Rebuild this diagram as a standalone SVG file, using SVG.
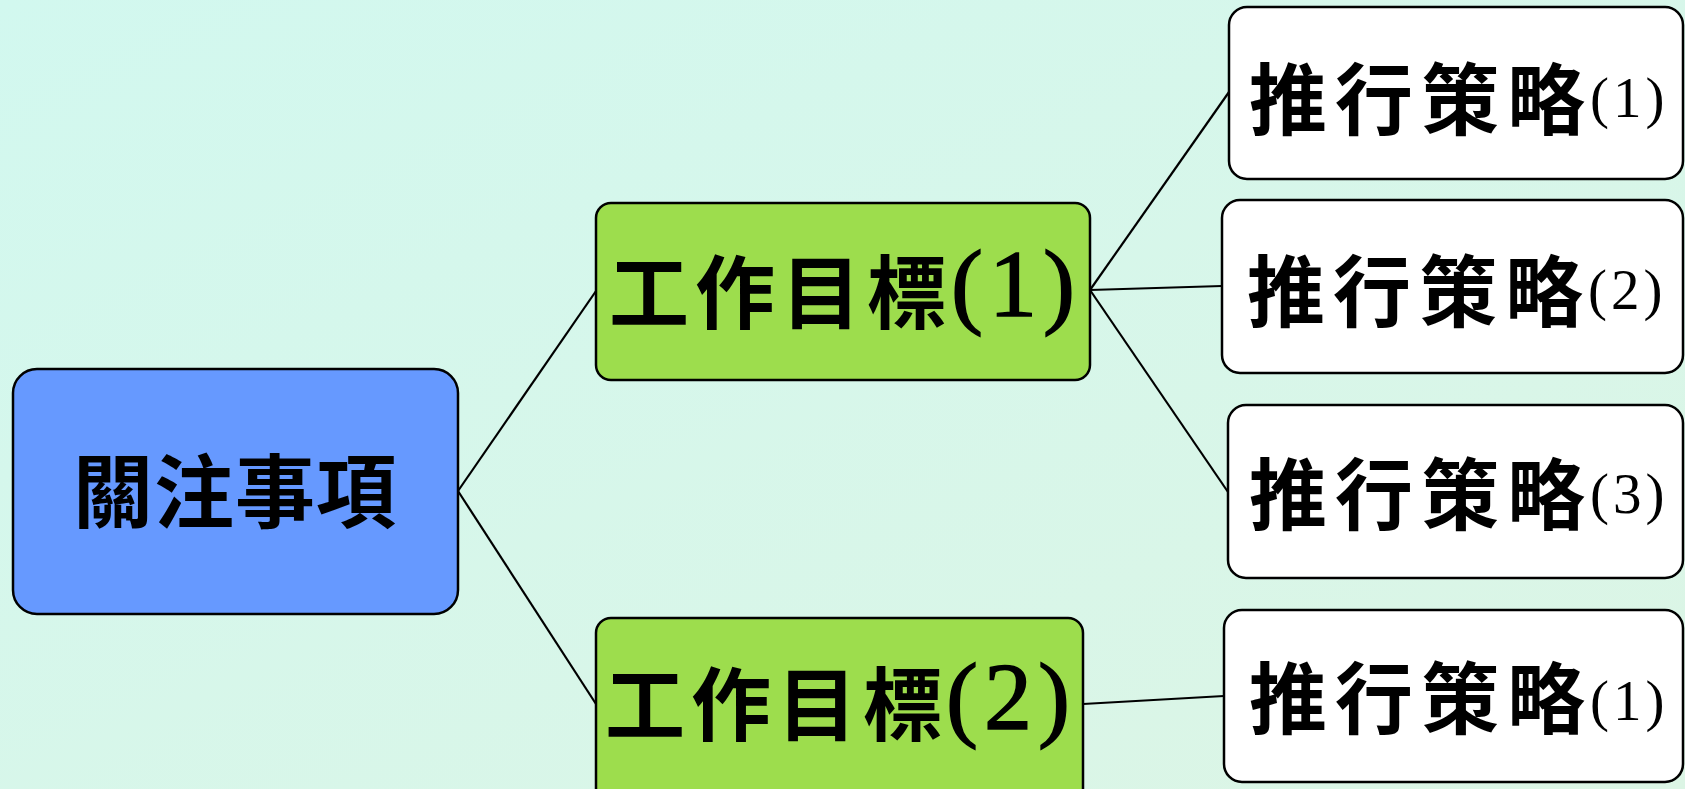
<svg xmlns="http://www.w3.org/2000/svg" width="1685" height="789" viewBox="0 0 1685 789">
<defs>
<linearGradient id="bg" x1="0" y1="0" x2="1" y2="1">
<stop offset="0" stop-color="#d2f8ef"/>
<stop offset="1" stop-color="#dcf5e5"/>
</linearGradient>
</defs>
<style>
.box{stroke:#000;stroke-width:2.5}
.blue{fill:#6699ff}
.green{fill:#9ddd4d}
.white{fill:#ffffff}
.cjk{font-family:"Noto Sans CJK TC","Noto Sans CJK SC",sans-serif;font-weight:700;fill:#000}
.par{font-family:"Liberation Serif",serif;font-weight:400;fill:#000}
.parb{font-family:"Liberation Serif",serif;font-weight:400;fill:#000;stroke:#000;stroke-width:1.5}
.conn line{stroke:#000;stroke-width:2.2}
</style>
<rect width="1685" height="789" fill="url(#bg)"/>
<g class="conn" id="connectors">
<line x1="458" y1="491" x2="596" y2="291"/>
<line x1="458" y1="491" x2="596" y2="704"/>
<line x1="1090" y1="290" x2="1229" y2="92"/>
<line x1="1090" y1="290" x2="1222" y2="286"/>
<line x1="1090" y1="290" x2="1228" y2="492"/>
<line x1="1083" y1="704" x2="1224" y2="696"/>
</g>
<g id="root">
<rect class="box blue" x="13" y="369" width="445" height="245" rx="24"/>
<text class="cjk" x="73" y="521" font-size="80" letter-spacing="1">關注事項</text>
</g>
<g id="goal1">
<rect class="box green" x="596" y="203" width="494" height="177" rx="15"/>
<text class="cjk" x="609" y="322" font-size="80" letter-spacing="6">工作目標<tspan class="parb" x="951" y="316" font-size="96" letter-spacing="6">(1)</tspan></text>
</g>
<g id="goal2">
<rect class="box green" x="596" y="618" width="487" height="190" rx="15"/>
<text class="cjk" x="605" y="734" font-size="80" letter-spacing="6">工作目標<tspan class="parb" x="946" y="729" font-size="96" letter-spacing="6">(2)</tspan></text>
</g>
<g id="s1">
<rect class="box white" x="1229" y="7" width="454" height="172" rx="18"/>
<text class="cjk" x="1249" y="129" font-size="78" letter-spacing="8">推行策略<tspan class="par" x="1590" y="117" font-size="57" letter-spacing="4">(1)</tspan></text>
</g>
<g id="s2">
<rect class="box white" x="1222" y="200" width="461" height="173" rx="18"/>
<text class="cjk" x="1247" y="321" font-size="78" letter-spacing="8">推行策略<tspan class="par" x="1588" y="309" font-size="57" letter-spacing="4">(2)</tspan></text>
</g>
<g id="s3">
<rect class="box white" x="1228" y="405" width="455" height="173" rx="18"/>
<text class="cjk" x="1249" y="524" font-size="78" letter-spacing="8">推行策略<tspan class="par" x="1590" y="513" font-size="57" letter-spacing="4">(3)</tspan></text>
</g>
<g id="s4">
<rect class="box white" x="1224" y="610" width="459" height="172" rx="18"/>
<text class="cjk" x="1249" y="728" font-size="78" letter-spacing="8">推行策略<tspan class="par" x="1590" y="720" font-size="57" letter-spacing="4">(1)</tspan></text>
</g>
</svg>
